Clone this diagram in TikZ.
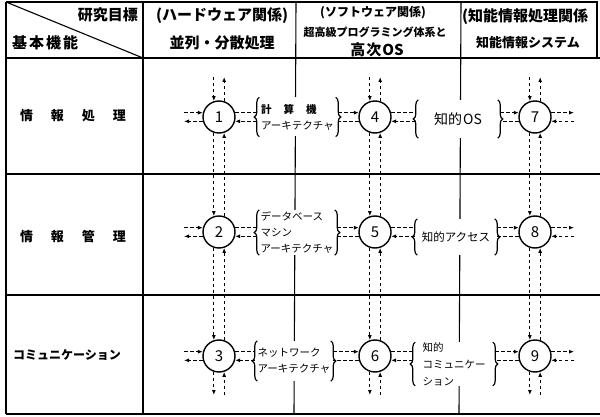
\documentclass[tikz,border=0pt]{standalone}
\usepackage{fontspec}
\setmainfont{Noto Sans CJK JP}
\usetikzlibrary{arrows.meta,decorations.pathreplacing}
\begin{document}
\begin{tikzpicture}[x=1pt,y=-1pt,
  grid/.style={line width=1.1pt},
  circ/.style={circle,draw,fill=white,line width=1.4pt,minimum size=32pt,inner sep=0pt,font=\fontsize{15}{15}\selectfont},
  dl/.style={line width=1.3pt,dash pattern=on 3.5pt off 2.5pt},
  ar/.style={dl,-{Latex[length=5pt,width=4pt]}},
  grp/.style={fill=white,inner sep=0pt,align=left,font=\fontsize{10.5}{16}\selectfont},
  br/.style={line width=1.2pt,decorate,decoration={brace,amplitude=5pt,raise=-2.5pt}},
  hd/.style={inner sep=0pt,font=\fontsize{15}{15}\selectfont\bfseries},
  rowlab/.style={inner sep=0pt,font=\fontsize{13}{13}\selectfont\bfseries}
]
\useasboundingbox[fill=white] (0,0) rectangle (600,417);
% table grid
\draw[grid] (6,2) -- (598,2);
\draw[grid] (6,2) -- (6,414);
\draw[grid] (6,414) -- (600,414);
\draw[grid] (6,58) -- (600,58);
\draw[grid] (6,174) -- (600,174);
\draw[grid] (6,295) -- (600,295);
\draw[grid] (143,2) -- (143,414);
\draw[grid] (296,2) -- (294,414);
\draw[grid] (461,2) -- (459,414);
\draw[grid] (597,2) -- (597,58);
\draw[grid] (6,2) -- (143,58);
% header texts
\node[hd,anchor=east] (h1) at (138,15) {研究目標};
\node[hd,anchor=west] (h2) at (12,43) {基\hspace{2pt}本\hspace{2pt}機\hspace{2pt}能};
\node[hd] (h3) at (222,16) {(ハードウェア関係)};
\node[hd] (h4) at (222,43) {並列・分散処理};
\node[hd,font=\fontsize{12}{12}\selectfont\bfseries] (h5) at (373,13) {(ソフトウェア関係)};
\node[hd,font=\fontsize{11}{11}\selectfont\bfseries] (h6) at (375,32) {超高級プログラミング体系と};
\node[hd] (h7) at (377,50) {高\hspace{1pt}次\hspace{1pt}OS};
\node[hd,anchor=west] (h8) at (462,17) {(知能情報処理関係};
\node[hd,font=\fontsize{13}{13}\selectfont\bfseries] (h9) at (528,43) {知能情報システム};
% row labels
\node[rowlab] (r1) at (73,116) {情\hspace{18pt}報\hspace{18pt}処\hspace{18pt}理};
\node[rowlab] (r2) at (73,237) {情\hspace{18pt}報\hspace{18pt}管\hspace{18pt}理};
\node[rowlab,font=\fontsize{12}{12}\selectfont\bfseries] (r3) at (67,355) {コミュニケーション};
% brace groups
\node[grp,minimum width=81pt,minimum height=39pt] (g1) at (297.5,117) {\bfseries 計\hspace{12pt}算\hspace{12pt}機\\アーキテクチャ};
\node[grp,minimum width=80pt,minimum height=45pt] (g2) at (297,232.5) {データベース\\マシン\\アーキテクチャ};
\node[grp,minimum width=78pt,minimum height=40pt] (g3) at (294,361) {ネットワーク\\アーキテクチャ};
\node[grp,minimum width=84pt,minimum height=38pt,font=\fontsize{14}{14}\selectfont] (g4) at (458,119) {知的\hspace{1pt}OS};
\node[grp,minimum width=82pt,minimum height=36pt,font=\fontsize{11.5}{14}\selectfont] (g5) at (456,237) {知的アクセス};
\node[grp,minimum width=82pt,minimum height=42pt,font=\fontsize{10.5}{17}\selectfont] (g6) at (454,364) {知的\\コミュニケー\\ション};
\foreach \g in {g1,g2,g3,g4,g5,g6} {
  \draw[br] (\g.south west) -- (\g.north west);
  \draw[br] (\g.north east) -- (\g.south east);
}
% circles
\node[circ] (c1) at (219,117) {1};
\node[circ] (c2) at (219,232) {2};
\node[circ] (c3) at (219,356) {3};
\node[circ] (c4) at (375,117) {4};
\node[circ] (c5) at (375,232) {5};
\node[circ] (c6) at (375,356) {6};
\node[circ] (c7) at (535,117) {7};
\node[circ] (c8) at (535,232) {8};
\node[circ] (c9) at (535,356) {9};
% free ends
\coordinate (L) at (184,0);
\coordinate (R) at (574,0);
\coordinate (T) at (0,77);
\coordinate (B) at (0,395);
% horizontal connectors
\foreach \a/\b/\c/\gl/\gr in {c1/c4/c7/g1/g4, c2/c5/c8/g2/g5, c3/c6/c9/g3/g6} {
  \draw[ar] (\a.165 -| L) -- (\a.165);
  \draw[ar] (\a.195) -- (\a.195 -| L);
  \draw[dl] (\a.15) -- (\a.15 -| \gl.west);
  \draw[ar] (\a.-15 -| \gl.west) -- (\a.-15);
  \draw[ar] (\b.165 -| \gl.east) -- (\b.165);
  \draw[dl] (\b.195) -- (\b.195 -| \gl.east);
  \draw[dl] (\b.15) -- (\b.15 -| \gr.west);
  \draw[ar] (\b.-15 -| \gr.west) -- (\b.-15);
  \draw[ar] (\c.165 -| \gr.east) -- (\c.165);
  \draw[dl] (\c.195) -- (\c.195 -| \gr.east);
  \draw[ar] (\c.15) -- (\c.15 -| R);
  \draw[ar] (\c.-15 -| R) -- (\c.-15);
}
% vertical connectors
\foreach \x in {c1,c4,c7} {
  \draw[ar] (\x.108 |- T) -- (\x.108);
  \draw[ar] (\x.72) -- (\x.72 |- T);
}
\foreach \u/\w in {c1/c2,c2/c3,c4/c5,c5/c6,c7/c8,c8/c9} {
  \draw[ar] (\u.252) -- (\w.108);
  \draw[ar] (\w.72) -- (\u.288);
}
\foreach \x in {c3,c6,c9} {
  \draw[ar] (\x.252) -- (\x.252 |- B);
  \draw[ar] (\x.288 |- B) -- (\x.288);
}
\end{tikzpicture}
\end{document}
